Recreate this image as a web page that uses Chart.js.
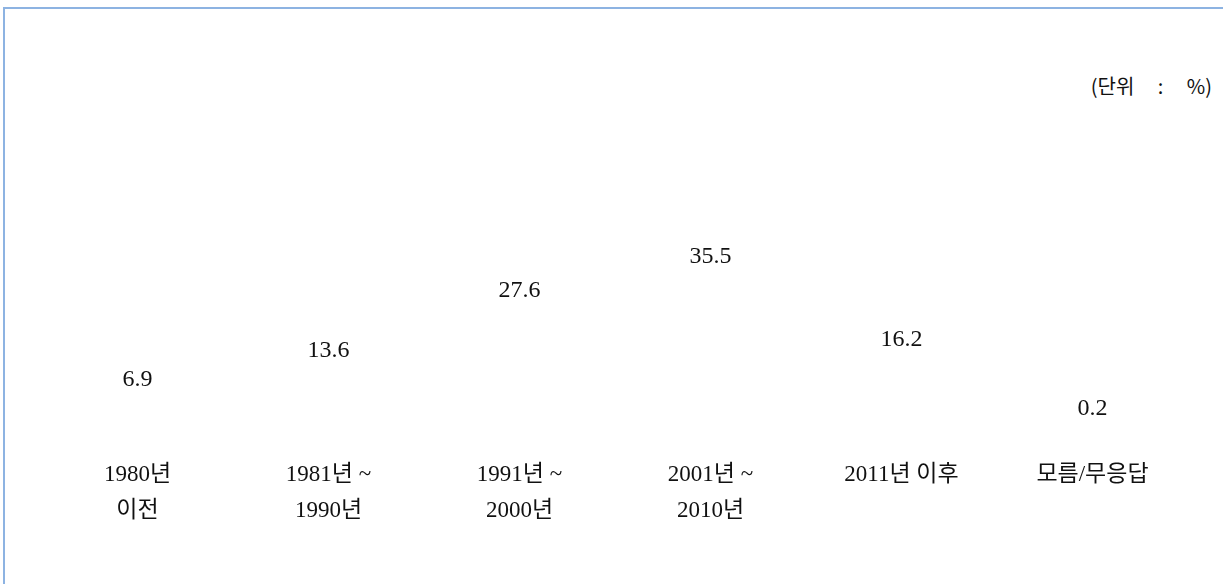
<!DOCTYPE html>
<html>
<head>
<meta charset="utf-8">
<script src="https://cdn.jsdelivr.net/npm/chart.js@4"></script>
<style>
    html, body { margin: 0; padding: 0; background: #fff; }
    #wrap { position: relative; width: 1223px; height: 584px; overflow: hidden; }
    #frame {
        position: absolute; left: 3px; top: 7px; width: 1300px; height: 700px;
        border-top: 2px solid #8db3e2; border-left: 2px solid #8db3e2;
    }
    #unit {
        position: absolute; right: 11px; top: 71px;
        font: 20px "Noto Sans CJK KR", sans-serif; color: #111;
        word-spacing: 19px; white-space: pre;
    }
    canvas { position: absolute; left: 0; top: 0; }
</style>
</head>
<body>
<div id="wrap">
    <div id="frame"></div>
    <span id="unit">(단위 : %)</span>
    <canvas id="periodChart" width="1223" height="584"></canvas>
</div>
<script>
// --- Data ---
const periodLabels = [
    ['1980년', '이전'],
    ['1981년 ~', '1990년'],
    ['1991년 ~', '2000년'],
    ['2001년 ~', '2010년'],
    '2011년 이후',
    '모름/무응답'
];
const periodValues = [6.9, 13.6, 27.6, 35.5, 16.2, 0.2];

const textFont = '"Liberation Serif", "Noto Sans CJK KR", serif';

// value labels above each (invisible) bar
const valueLabels = {
    id: 'valueLabels',
    afterDatasetsDraw(chart) {
        const ctx = chart.ctx;
        const meta = chart.getDatasetMeta(0);
        ctx.save();
        ctx.font = '24px ' + textFont;
        ctx.fillStyle = '#111';
        ctx.textAlign = 'center';
        ctx.textBaseline = 'middle';
        meta.data.forEach((bar, i) => {
            ctx.fillText(periodValues[i].toFixed(1), bar.x, bar.y - 12);
        });
        ctx.restore();
    }
};

const ctx = document.getElementById('periodChart').getContext('2d');
new Chart(ctx, {
    type: 'bar',
    data: {
        labels: periodLabels,
        datasets: [{
            data: periodValues,
            backgroundColor: 'rgba(0,0,0,0)',
            borderWidth: 0
        }]
    },
    options: {
        responsive: false,
        animation: false,
        layout: { padding: { left: 42, right: 35, top: 249, bottom: 0 } },
        plugins: {
            legend: { display: false },
            tooltip: { enabled: false }
        },
        scales: {
            x: {
                grid: { display: false, drawTicks: false },
                border: { display: false },
                ticks: {
                    color: '#111',
                    font: { family: textFont, size: 23, lineHeight: 1.55 },
                    padding: 35,
                    maxRotation: 0,
                    autoSkip: false
                },
                afterFit(axis) { axis.height = 162; }
            },
            y: {
                display: false,
                min: 0,
                max: 40
            }
        }
    },
    plugins: [valueLabels]
});
</script>
</body>
</html>
